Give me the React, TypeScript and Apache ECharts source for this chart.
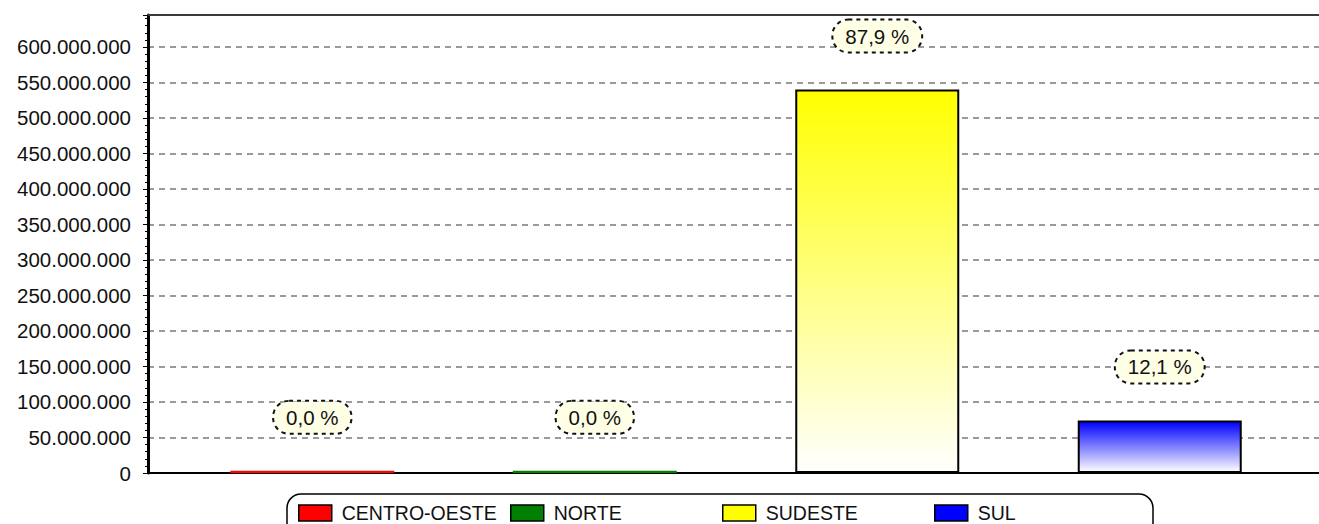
import React, { useEffect, useRef } from "react";
import * as echarts from "echarts";

const categories = ["CENTRO-OESTE", "NORTE", "SUDESTE", "SUL"];
const values = [3000000, 3000000, 540000000, 74000000];
const shareLabels = ["0,0 %", "0,0 %", "87,9 %", "12,1 %"];
const palette = ["#ff0000", "#008000", "#ffff00", "#0000ff"];
const useGradient = [false, false, true, true];
const legendLefts = [298, 510, 722, 934];

const FONT = "'Liberation Sans', Arial, sans-serif";

const fmt = (v: number) =>
  String(Math.round(v)).replace(/\B(?=(\d{3})+(?!\d))/g, ".");

export default function App() {
  const ref = useRef<HTMLDivElement>(null);

  useEffect(() => {
    document.body.style.margin = "0";
    if (!ref.current) return;
    const chart = echarts.init(ref.current, null, { renderer: "svg" });

    const series = categories.map((name, i) => ({
      type: "bar",
      name,
      data: [[i, values[i]]],
      barWidth: 164,
      barGap: "-100%",
      itemStyle: {
        color: useGradient[i]
          ? new echarts.graphic.LinearGradient(0, 0, 0, 1, [
              { offset: 0, color: palette[i] },
              { offset: 1, color: "#ffffff" },
            ])
          : palette[i],
        borderColor: "#000",
        borderWidth: useGradient[i] ? 2 : 0,
      },
      label: {
        show: true,
        position: "top",
        distance: 38,
        formatter: () => shareLabels[i],
        fontFamily: FONT,
        fontSize: 20.5,
        color: "#111",
        backgroundColor: "#ffffe6",
        borderColor: "#111",
        borderWidth: 2,
        borderType: "dotted",
        borderRadius: 15,
        padding: [5, 12],
      },
    }));

    const legends = categories.map((name, i) => ({
      left: legendLefts[i],
      top: 503,
      padding: 0,
      itemWidth: 33,
      itemHeight: 16,
      selectedMode: false,
      textStyle: {
        fontFamily: FONT,
        fontSize: 19.5,
        color: "#111",
        padding: [0, 0, 0, 5],
      },
      data: [
        {
          name,
          icon: "rect",
          itemStyle: { color: palette[i], borderColor: "#000", borderWidth: 1.5 },
        },
      ],
    }));

    chart.setOption({
      animation: false,
      textStyle: { fontFamily: FONT },
      grid: { left: 148, top: 15, width: 1171, height: 458 },
      xAxis: [
        {
          type: "value",
          min: -0.5816,
          max: 3.5638,
          position: "bottom",
          axisLine: { show: true, onZero: false, lineStyle: { color: "#000", width: 2 } },
          axisTick: { show: false },
          axisLabel: { show: false },
          splitLine: { show: false },
        },
        {
          type: "value",
          min: -0.5816,
          max: 3.5638,
          position: "top",
          axisLine: { show: true, onZero: false, lineStyle: { color: "#3a3a3a", width: 2 } },
          axisTick: { show: false },
          axisLabel: { show: false },
          splitLine: { show: false },
        },
      ],
      yAxis: {
        type: "value",
        min: 0,
        max: 645000000,
        interval: 50000000,
        position: "left",
        axisLine: { show: true, onZero: false, lineStyle: { color: "#000", width: 3 } },
        axisTick: { show: true, length: 5, lineStyle: { color: "#000", width: 1 } },
        minorTick: { show: true, splitNumber: 5, length: 3, lineStyle: { color: "#000", width: 1 } },
        axisLabel: {
          showMaxLabel: false,
          margin: 17,
          fontFamily: FONT,
          fontSize: 20.5,
          color: "#111",
          formatter: (v: number) => fmt(v),
        },
        splitLine: {
          show: true,
          lineStyle: { color: "#9a9a9a", width: 2, type: [6, 5] },
        },
      },
      legend: legends,
      graphic: [
        {
          type: "rect",
          shape: { x: 287, y: 494, width: 866, height: 60, r: 14 },
          style: { fill: "none", stroke: "#000", lineWidth: 1.5 },
          z: 0,
        },
      ],
      series,
    });

    return () => chart.dispose();
  }, []);

  return <div ref={ref} style={{ width: 1319, height: 524 }} />;
}
